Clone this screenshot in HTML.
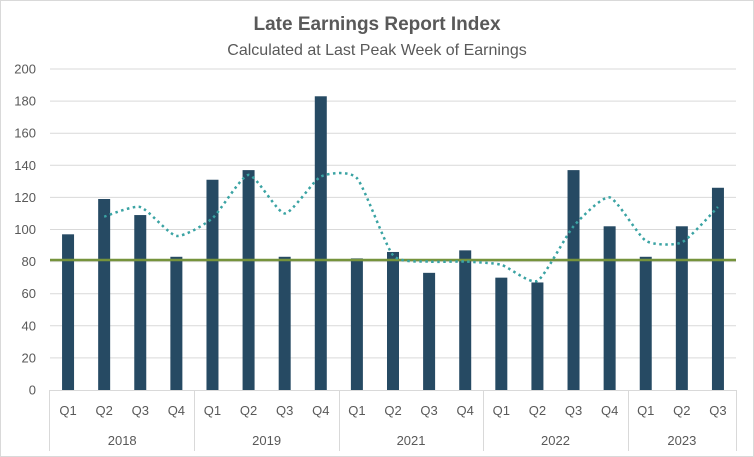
<!DOCTYPE html>
<html><head><meta charset="utf-8"><style>
body{margin:0;background:#fff}
svg{display:block;font-family:"Liberation Sans",sans-serif}
</style></head><body>
<svg id="c" width="754" height="457">
<rect x="0.5" y="0.5" width="753" height="456" fill="#fff" stroke="#d9d9d9"/>
<text x="377" y="30" text-anchor="middle" font-size="19" font-weight="bold" fill="#595959">Late Earnings Report Index</text>
<text x="377" y="55" text-anchor="middle" font-size="16" fill="#595959">Calculated at Last Peak Week of Earnings</text>
<g id="grid"></g><g id="bars"></g><g id="lines"></g><g id="axis"></g>
</svg>
<script>
const quarters=["Q1","Q2","Q3","Q4","Q1","Q2","Q3","Q4","Q1","Q2","Q3","Q4","Q1","Q2","Q3","Q4","Q1","Q2","Q3"];
const years=["2018","2019","2021","2022","2023"];
const yearCounts=[4,4,4,4,3];
const indexValues=[97,119,109,83,131,137,83,183,82,86,73,87,70,67,137,102,83,102,126];
const movingAvg=[null,108,114,96,107,134,110,133,132,84,80,80,78,68,102,120,93,92,114];
const baseline=81;
const yTicks=[0,20,40,60,80,100,120,140,160,180,200];
const NS="http://www.w3.org/2000/svg";
const x0=50,x1=736,y0=390,yTop=69,n=quarters.length,slot=(x1-x0)/n;
const X=i=>x0+slot*(i+0.5), Y=v=>y0-(v/200)*(y0-yTop);
function mk(t,a,p){const e=document.createElementNS(NS,t);for(const k in a)e.setAttribute(k,a[k]);p.appendChild(e);return e;}
const g=document.getElementById('grid'),b=document.getElementById('bars'),l=document.getElementById('lines'),ax=document.getElementById('axis');
yTicks.forEach(v=>{
 if(v>0){const ln=mk('line',{x1:x0,x2:x1,y1:Y(v),y2:Y(v),stroke:'#d9d9d9','stroke-width':1},g);
 
 }
 const t=mk('text',{x:36,y:Y(v)+4.5,'text-anchor':'end','font-size':13,fill:'#595959'},ax);t.textContent=v;
 
 
});
indexValues.forEach((v,i)=>{
 const r=mk('rect',{x:X(i)-6,y:Y(v),width:12,height:y0-Y(v),fill:'#264a63'},b);
 
 
});
const bl=mk('line',{x1:x0,x2:x1,y1:Y(baseline),y2:Y(baseline),stroke:'#76933c','stroke-width':2.5},l);


const pts=[];movingAvg.forEach((v,i)=>{if(v!=null)pts.push([X(i),Y(v)]);});
let d='M'+pts[0][0]+','+pts[0][1];
const k=10;
for(let i=0;i<pts.length-1;i++){const p0=pts[i-1]||pts[i],p1=pts[i],p2=pts[i+1],p3=pts[i+2]||p2;
 d+=` C${p1[0]+(p2[0]-p0[0])/k},${p1[1]+(p2[1]-p0[1])/k} ${p2[0]-(p3[0]-p1[0])/k},${p2[1]-(p3[1]-p1[1])/k} ${p2[0]},${p2[1]}`;}
const ma=mk('path',{d:d,fill:'none',stroke:'#3aa3a3','stroke-width':2.5,'stroke-dasharray':'2.5 3.5'},l);


mk('line',{x1:x0,x2:x1,y1:y0+.5,y2:y0+.5,stroke:'#d9d9d9'},ax);
quarters.forEach((q,i)=>{const t=mk('text',{x:X(i),y:415,'text-anchor':'middle','font-size':13,fill:'#595959'},ax);t.textContent=q;
 
 });
let s=0;
mk('line',{x1:x0-.5,x2:x0-.5,y1:y0,y2:451,stroke:'#d9d9d9'},ax);
years.forEach((yr,k)=>{const c=yearCounts[k];const xm=x0+slot*(s+c/2);
 const t=mk('text',{x:xm,y:445,'text-anchor':'middle','font-size':13,fill:'#595959'},ax);t.textContent=yr;
 
 
 s+=c;const xe=Math.round(x0+slot*s)+.5;
 mk('line',{x1:xe,x2:xe,y1:y0,y2:451,stroke:'#d9d9d9'},ax);});
</script>
</body></html>
